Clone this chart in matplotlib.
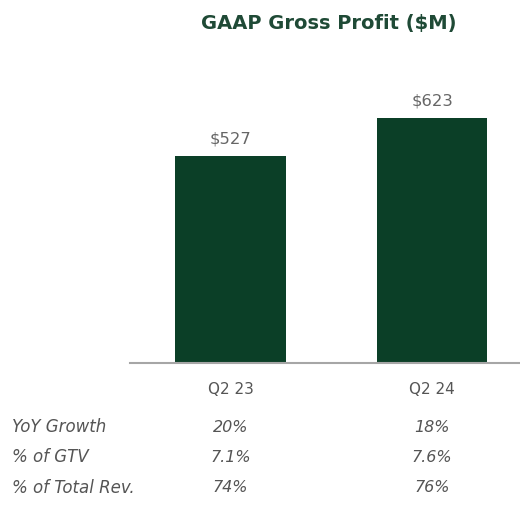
import matplotlib
matplotlib.use("Agg")
import matplotlib.pyplot as plt

categories = ["Q2 23", "Q2 24"]
values = [527, 623]
value_labels = ["$527", "$623"]
row_labels = ["YoY Growth", "% of GTV", "% of Total Rev."]
row_values = [["20%", "18%"], ["7.1%", "7.6%"], ["74%", "76%"]]

plt.rcParams['font.family'] = ['DejaVu Sans']

W, H = 520, 505
fig = plt.figure(figsize=(W/100, H/100), dpi=100)
fig.patch.set_facecolor("white")

# axes from x=130..520 px, y=60..363 px (top-origin)
ax = fig.add_axes([130/W, 1-363/H, 390/W, (363-60)/H])
x = list(range(len(categories)))
bar_color = "#0b3f27"
ax.bar(x, values, width=0.551, color=bar_color)
ax.set_xlim(-0.5, 1.437)
ax.set_ylim(0, 771)
for s in ["top", "right", "left"]:
    ax.spines[s].set_visible(False)
ax.spines["bottom"].set_color("#a6a6a6")
ax.spines["bottom"].set_linewidth(1.5)
ax.set_yticks([])
ax.set_xticks(x)
ax.set_xticklabels(categories, fontsize=11, color="#555555")
ax.tick_params(axis="x", length=0, pad=14)

for xi, v, lab in zip(x, values, value_labels):
    ax.annotate(lab, (xi, v), xytext=(0, 7), textcoords="offset points",
                ha="center", va="bottom", fontsize=11.8, color="#666666")

fig.text(329/W, 1-23/H, "GAAP Gross Profit ($M)", ha="center", va="center",
         fontsize=14, fontweight="bold", color="#1f4a36")

row_y = [427, 457, 488]
col_px = [230.5, 432]
for ry, lab, vals in zip(row_y, row_labels, row_values):
    fig.text(12/W, 1-ry/H, lab, ha="left", va="center", fontsize=12,
             style="italic", color="#555555")
    for cx, v in zip(col_px, vals):
        fig.text(cx/W, 1-ry/H, v, ha="center", va="center", fontsize=11.5,
                 style="italic", color="#555555")

fig.savefig("out.png", dpi=100, facecolor="white")
